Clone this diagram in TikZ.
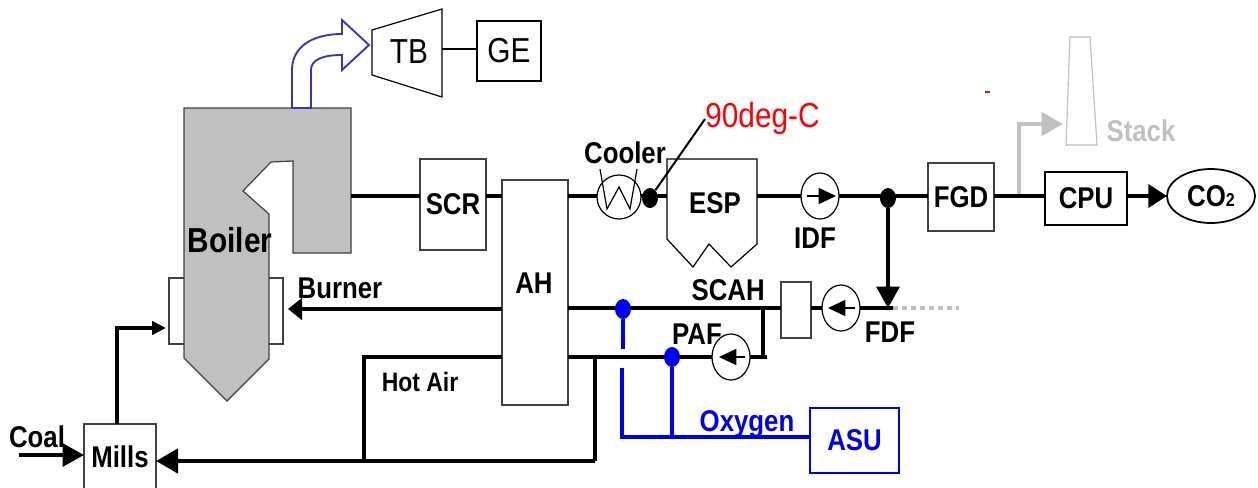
\documentclass[tikz,border=0pt]{standalone}
\usepackage{xcolor}
\usepackage{fontspec}
\setmainfont[FakeStretch=0.86]{Liberation Sans}
\definecolor{oxyblue}{HTML}{0000F0}
\definecolor{steamblue}{HTML}{3333CC}
\definecolor{stackgray}{HTML}{C0C0C0}
\definecolor{edgegray}{HTML}{404040}
\usetikzlibrary{shapes.geometric, arrows.meta, positioning, calc}
\def\pxu{0.75pt}

\begin{document}
\begin{tikzpicture}[
    x=0.75pt, y=-0.75pt,
    lbl/.style={font=\fontsize{22.5}{24}\selectfont\bfseries, inner sep=0pt},
    plainlbl/.style={font=\fontsize{26}{28}\selectfont, inner sep=0pt},
    box/.style={draw=edgegray, fill=white, line width=0.9pt, inner sep=0pt, outer sep=0pt, font=\fontsize{22.5}{24}\selectfont\bfseries, align=center},
    fan/.style={draw=black, fill=white, ellipse, line width=0.9pt, inner sep=0pt, outer sep=0pt, minimum width=38*\pxu, minimum height=46*\pxu},
    joint/.style={ellipse, fill=black, inner sep=0pt, minimum width=16*\pxu, minimum height=20*\pxu},
    flow/.style={line width=3.6pt, line join=miter, color=black},
    oxy/.style={line width=3pt, color=oxyblue},
    arrow/.style={flow, -{Triangle[length=16pt, width=17pt]}},
    fanarrow/.style={line width=1.2pt, -{Triangle[length=13pt, width=12pt]}}
]
\useasboundingbox (0,0) rectangle (1258,487);

% Boiler with burners
\node[box, minimum width=114*\pxu, minimum height=66*\pxu] (burner) at (226,311) {};
\draw[fill=stackgray, draw=edgegray, line width=0.9pt] (184,108) -- (351,108) -- (351,253) -- (293,253) -- (293,161) -- (271,162) -- (243,191) -- (269,214) -- (269,359) -- (227,401) -- (184,358) -- cycle;
\node[lbl, font=\fontsize{26}{28}\selectfont\bfseries] (boilerlabel) at (230,240) {Boiler};
\coordinate (boilerout) at (351,196);
\coordinate (burnerleft) at (166,328);
\coordinate (burnerright) at (288,309);

% Steam to turbine
\draw[draw=steamblue, fill=white, line width=1.4pt] (292,108) -- (292,70) .. controls (292,47) and (312,34) .. (342,34) -- (342,20) -- (369,45) -- (342,70) -- (342,55) .. controls (322,55) and (311,60) .. (311,70) -- (311,108) -- cycle;
\draw[draw=black, line width=0.9pt] (372,30) -- (442,9) -- (442,97) -- (372,75) -- cycle;
\node[plainlbl] (tb) at (409,52) {TB};
\coordinate (tbout) at (442,49);
\node[box, draw=black, font=\fontsize{26}{28}\selectfont, minimum width=64*\pxu, minimum height=60*\pxu] (ge) at (509,51) {GE};
\draw[line width=0.9pt] (tbout) -- (ge.west |- tbout);

% Flue gas line
\node[box, minimum width=66*\pxu, minimum height=91*\pxu] (scr) at (453,204.5) {SCR};
\node[box, minimum width=66*\pxu, minimum height=225*\pxu] (ah) at (535,292.5) {};
\node[lbl] (ahlabel) at (534,283) {AH};
\node[fan, minimum width=44*\pxu, minimum height=44*\pxu] (cooler) at (619,197) {};
\draw[line width=0.9pt] (600,169) -- (607,209) -- (619,187) -- (630,209) -- (637,169);
\node[lbl, above=8pt of cooler, xshift=6*\pxu] (coolerlabel) {Cooler};
\draw[draw=black, fill=white, line width=0.9pt] (667,159) -- (757,159) -- (757,244) -- (731,267) -- (709,244) -- (693,267) -- (667,239) -- cycle;
\node[lbl] (esp) at (715,203) {ESP};
\coordinate (espin) at (667,196);
\coordinate (espout) at (757,196);
\node[fan] (idf) at (820,196) {};
\node[lbl] (idflabel) at (815,238) {IDF};
\node[joint] (cooldot) at (650,198) {};
\node[joint] (splitdot) at (888,198) {};
\node[box, minimum width=66*\pxu, minimum height=68*\pxu] (fgd) at (961,197) {\raisebox{-1.5pt}{FGD}};
\node[box, draw=black, line width=1.5pt, minimum width=82*\pxu, minimum height=53*\pxu] (cpu) at (1086,198.5) {\raisebox{-1pt}{CPU}};
\node[box, draw=black, ellipse, line width=1.3pt, minimum width=88*\pxu, minimum height=54*\pxu] (co2) at (1211,196) {CO{\fontsize{14}{14}\selectfont 2}};

\draw[flow] (boilerout) -- (scr.west |- boilerout);
\draw[flow] (scr.east |- boilerout) -- (ah.west |- boilerout);
\draw[flow] (ah.east |- boilerout) -- (cooler.west |- boilerout);
\draw[flow] (cooler.east |- boilerout) -- (espin);
\draw[flow] (espout) -- (idf.west);
\draw[flow] (idf.east) -- (fgd.west |- idf.east);
\draw[flow] (fgd.east |- idf.east) -- (cpu.west |- idf.east);
\draw[flow, -{Triangle[length=14pt, width=17pt]}] (cpu.east |- co2) -- (co2.west);
\draw[fanarrow] ([xshift=-13*\pxu]idf.center) -- ([xshift=16*\pxu]idf.center);

% Temperature note
\node[plainlbl, text=red, anchor=west] (temp) at (705,119) {90deg-C};
\draw[line width=1.5pt] (cooldot) -- (temp.west);
\node[fill=red, inner sep=0pt, minimum width=5*\pxu, minimum height=2.5*\pxu] (reddash) at (987,92) {};

% Stack branch
\draw[draw=stackgray, fill=white, line width=0.9pt] (1070,37) -- (1090,37) -- (1097,145) -- (1066,145) -- cycle;
\node[lbl, text=stackgray] (stack) at (1141,131) {Stack};
\coordinate (stackbase) at (1019,194);
\coordinate (stackin) at (1063,124);
\draw[flow, color=stackgray, -{Triangle[length=16pt, width=17pt]}] (stackbase) |- (stackin);

% Air line
\node[box, minimum width=30*\pxu, minimum height=56*\pxu] (scah) at (796,310) {};
\node[lbl, above left=7pt and 12pt of scah.west] (scahlabel) {SCAH};
\node[fan] (fdf) at (841,308) {};
\node[lbl] (fdflabel) at (890,332) {FDF};
\coordinate (fdfend) at (893,308);
\coordinate (airend) at (959,308);
\node[lbl] (paflabel) at (697,334) {PAF};
\node[fan] (paf) at (731,357) {};
\node[lbl, font=\fontsize{20}{22}\selectfont\bfseries] (hotair) at (420,382) {Hot Air};
\node[lbl] (burnerlabel) at (340,288) {Burner};
\coordinate (fanjoin) at (763,357);
\coordinate (pafend) at (767,357);

\draw[flow] (scah.east |- fdf) -- (fdf.west);
\draw[flow] (fdf.east) -- (fdfend);
\draw[flow, color=stackgray, dash pattern=on 3.8pt off 3pt] (fdfend) -- (airend);
\draw[arrow, line width=3pt] (splitdot) -- (splitdot |- fdfend);
\draw[flow] (ah.east |- fdf) -- (scah.west |- fdf);
\draw[flow, -{Triangle[length=10.5pt, width=16pt]}] (ah.west |- burnerright) -- (burnerright);
\draw[flow] (ah.east |- paf) -- (paf.west);
\draw[flow] (paf.east) -- (pafend);
\draw[flow] (fanjoin |- fdf) -- (fanjoin);
\draw[fanarrow] ([xshift=14*\pxu]fdf.center) -- ([xshift=-13*\pxu]fdf.center);
\draw[fanarrow] ([xshift=14*\pxu]paf.center) -- ([xshift=-12*\pxu]paf.center);

% Coal and mills
\node[box, minimum width=72*\pxu, minimum height=66*\pxu] (mills) at (120,457) {Mills};
\node[lbl] (coal) at (37,437) {Coal};
\coordinate (coalin) at (19,455);
\coordinate (hotleft) at (364,461);
\coordinate (hotright) at (595,461);
\draw[arrow, line width=3pt] (coalin) -- (mills.west |- coalin);
\draw[arrow, line width=3pt, -{Triangle[length=10.5pt, width=10pt]}] (117,424) |- (burnerleft);
\draw[arrow, -{Triangle[length=16.5pt, width=18pt]}] (hotright) -- (mills.east |- hotright);
\draw[flow] (ah.west |- paf) -| (hotleft);
\draw[flow] (hotright |- paf) -- (hotright);

% Oxygen line
\node[box, draw=oxyblue, line width=1.5pt, text=oxyblue, minimum width=89*\pxu, minimum height=65*\pxu] (asu) at (854.5,440.5) {ASU};
\node[lbl, text=oxyblue] (oxygen) at (747,424) {Oxygen};
\node[joint, fill=oxyblue] (oxydot1) at (623,309) {};
\node[joint, fill=oxyblue] (oxydot2) at (672,357) {};
\coordinate (oxygap1) at (623,349);
\coordinate (oxygap2) at (622,368);
\coordinate (oxycorner) at (622,437);
\draw[oxy] (oxydot1) -- (oxygap1);
\draw[oxy] (oxygap2) -- (oxycorner) -- (asu.west |- oxycorner);
\draw[oxy] (oxydot2) -- (oxydot2 |- oxycorner);

\end{tikzpicture}
\end{document}
